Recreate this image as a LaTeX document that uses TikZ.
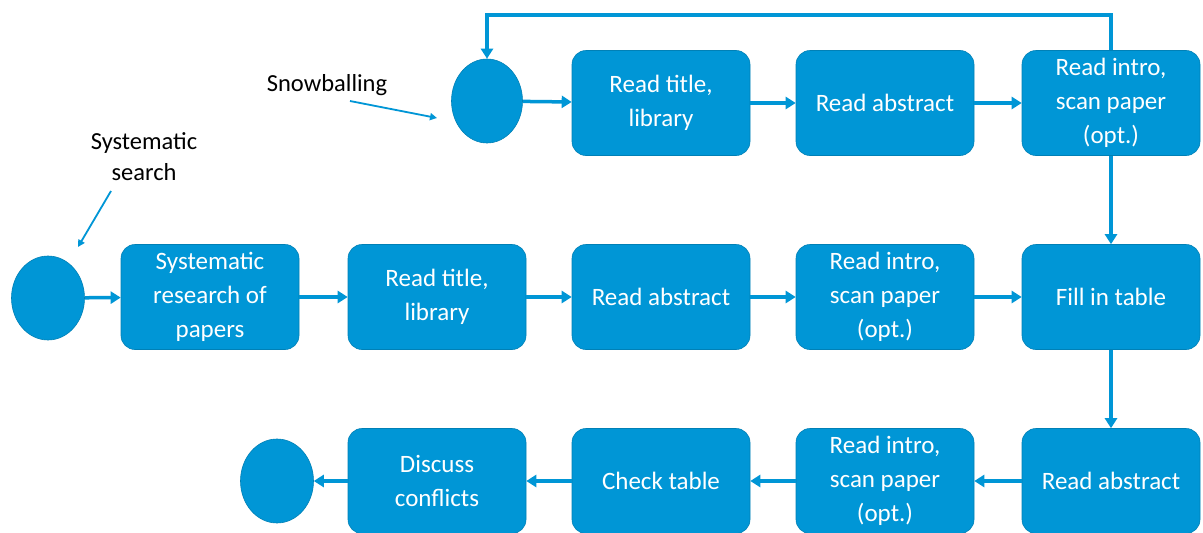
\documentclass[tikz,border=0pt]{standalone}
\usepackage{fontspec}
\setmainfont{Carlito}
\usetikzlibrary{arrows.meta}
\definecolor{flowblue}{RGB}{0,150,214}
\tikzset{
  stepbox/.style={fill=flowblue, draw=flowblue!85!black, line width=0.6pt, rounded corners=14pt,
    minimum width=178pt, minimum height=105pt, inner sep=2pt, text=white, align=center,
    font=\fontsize{25}{34}\selectfont},
  endpoint/.style={ellipse, fill=flowblue, draw=flowblue!85!black, line width=0.6pt, inner sep=0pt},
  flow/.style={draw=flowblue, line width=3.5pt, -{Triangle[length=10pt,width=12pt]}},
  pointer/.style={draw=flowblue, line width=1.8pt, -{Triangle[length=7pt,width=7pt]}},
  label/.style={text=black, align=center, font=\fontsize{24.5}{31}\selectfont}
}
\usetikzlibrary{shapes.geometric}
\begin{document}
\begin{tikzpicture}[x=1pt,y=-1pt]
\useasboundingbox[fill=white] (0,0) rectangle (1203,533);
% row 1 (snowballing)
\node[endpoint, minimum width=71pt, minimum height=84pt] (s0) at (487,101) {};
\node[stepbox] (s1) at (661,103) {Read title,\\library};
\node[stepbox] (s2) at (885,103) {Read abstract};
\node[stepbox] (s3) at (1111,103) {Read intro,\\scan paper\\(opt.)};
% row 2 (systematic)
\node[endpoint, minimum width=73pt, minimum height=84pt] (a0) at (48,298) {};
\node[stepbox] (a1) at (210,297) {Systematic\\research of\\papers};
\node[stepbox] (a2) at (437,297) {Read title,\\library};
\node[stepbox] (a3) at (661,297) {Read abstract};
\node[stepbox] (a4) at (885,297) {Read intro,\\scan paper\\(opt.)};
\node[stepbox] (a5) at (1111,297) {Fill in table};
% row 3
\node[stepbox] (b5) at (1111,481) {Read abstract};
\node[stepbox] (b4) at (885,481) {Read intro,\\scan paper\\(opt.)};
\node[stepbox] (b3) at (661,481) {Check table};
\node[stepbox] (b2) at (437,481) {Discuss\\conflicts};
\node[endpoint, minimum width=73pt, minimum height=84pt] (b1) at (277,481) {};
% labels
\node[label] (snow) at (327,85) {Snowballing};
\node[label] (sys) at (144,157) {Systematic\\search};
\coordinate (snowfrom) at (350,101);
\coordinate (snowto) at (437,118);
\coordinate (sysfrom) at (111,191);
\coordinate (systo) at (78,247);
\coordinate (loopA) at (1111,15);
\coordinate (loopB) at (487,15);
% connectors
\draw[flow] (s0) -- (s1);
\draw[flow] (s1) -- (s2);
\draw[flow] (s2) -- (s3);
\draw[flow] (s3) -- (a5);
\draw[flow] (s3.north) -- (loopA) -- (loopB) -- (s0.north);
\draw[flow] (a0) -- (a1);
\draw[flow] (a1) -- (a2);
\draw[flow] (a2) -- (a3);
\draw[flow] (a3) -- (a4);
\draw[flow] (a4) -- (a5);
\draw[flow] (a5) -- (b5);
\draw[flow] (b5) -- (b4);
\draw[flow] (b4) -- (b3);
\draw[flow] (b3) -- (b2);
\draw[flow] (b2) -- (b1);
\draw[pointer] (snowfrom) -- (snowto);
\draw[pointer] (sysfrom) -- (systo);
\end{tikzpicture}
\end{document}
